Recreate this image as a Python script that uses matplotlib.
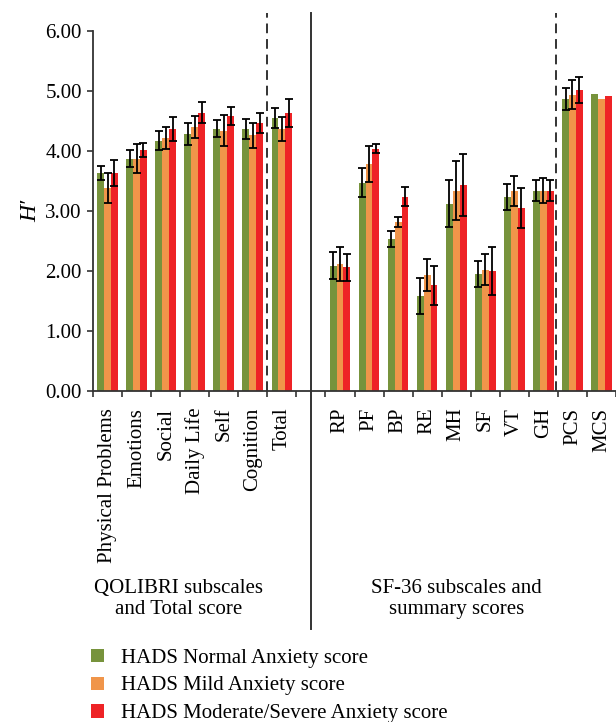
import numpy as np
import matplotlib.pyplot as plt
from matplotlib.patches import Patch

plt.rcParams['font.family'] = ['Liberation Serif', 'DejaVu Serif']

# categories (slot 7 is the empty gap between the two blocks)
qol_labels = ['Physical Problems', 'Emotions', 'Social', 'Daily Life', 'Self', 'Cognition', 'Total']
sf_labels = ['RP', 'PF', 'BP', 'RE', 'MH', 'SF', 'VT', 'GH', 'PCS', 'MCS']

# H' values
normal = [3.63, 3.87, 4.17, 4.28, 4.37, 4.37, 4.55,
          2.09, 3.47, 2.53, 1.58, 3.12, 1.95, 3.23, 3.34, 4.87, 4.95]
mild = [3.39, 3.87, 4.22, 4.40, 4.34, 4.26, 4.36,
        2.12, 3.78, 2.82, 1.93, 3.34, 2.02, 3.34, 3.34, 4.94, 4.87]
severe = [3.63, 4.02, 4.37, 4.64, 4.59, 4.47, 4.63,
          2.06, 4.04, 3.24, 1.76, 3.43, 2.00, 3.05, 3.34, 5.02, 4.92]

# error bars (MCS has none)
normal_err = [0.12, 0.14, 0.16, 0.18, 0.14, 0.17, 0.16,
              0.23, 0.24, 0.13, 0.30, 0.39, 0.22, 0.22, 0.17, 0.18, 0]
mild_err = [0.25, 0.24, 0.18, 0.18, 0.26, 0.21, 0.20,
            0.28, 0.30, 0.08, 0.27, 0.49, 0.26, 0.25, 0.21, 0.24, 0]
severe_err = [0.22, 0.12, 0.20, 0.17, 0.15, 0.17, 0.23,
              0.22, 0.08, 0.16, 0.33, 0.52, 0.40, 0.33, 0.17, 0.22, 0]

series_names = ['HADS Normal Anxiety score', 'HADS Mild Anxiety score',
                'HADS Moderate/Severe Anxiety score']
colors = ['#77933C', '#F0954A', '#EE2326']

labels = qol_labels + sf_labels
x = np.array(list(range(7)) + list(range(8, 18)), dtype=float)

fig = plt.figure(figsize=(6.16, 7.22), dpi=100)
ax = fig.add_axes([0.151, 0.4584, 0.849, 0.4986])

w = 0.237
vals = [normal, mild, severe]
errs = [normal_err, mild_err, severe_err]
for k in range(3):
    xs = x + (k - 1) * w
    ax.bar(xs, vals[k], width=w, color=colors[k], linewidth=0, zorder=2)
    e = np.array(errs[k])
    m = e > 0
    ax.errorbar(xs[m], np.array(vals[k])[m], yerr=e[m], fmt='none', ecolor='black',
                elinewidth=1.3, capsize=3.2, capthick=1.3, zorder=3)

ax.set_xlim(-0.5, 17.5)
ax.set_ylim(0, 6)
ax.set_yticks(np.arange(0, 7, 1))
ax.set_yticklabels(['%.2f' % v for v in np.arange(0, 7, 1)], fontsize=15)
ax.set_xticks(np.arange(-0.5, 18, 1))
ax.set_xticklabels([])
ax.set_xticks(x, minor=True)
ax.set_xticklabels(labels, minor=True, rotation=90, fontsize=15)
ax.tick_params(axis='x', which='major', length=4, width=1.2, direction='out', color='#333333')
ax.tick_params(axis='x', which='minor', length=0, pad=12)
ax.tick_params(axis='y', length=4, width=1.2, direction='out', color='#333333', pad=4)

for s in ['top', 'right']:
    ax.spines[s].set_visible(False)
for s in ['left', 'bottom']:
    ax.spines[s].set_linewidth(1.3)
    ax.spines[s].set_color('#333333')

ax.set_ylabel("H\u2032", fontsize=17, style='italic', labelpad=3)

# separators
ax.plot([5.48, 5.48], [0, 6.3], ls=(0, (5, 3)), color='#333333', lw=1.4, clip_on=False)
ax.plot([15.45, 15.45], [0, 6.3], ls=(0, (5, 3)), color='#333333', lw=1.4, clip_on=False)
ax.plot([7.0, 7.0], [-3.97, 6.3], color='#333333', lw=1.4, clip_on=False)

trans = ax.get_xaxis_transform()
ax.text(2.45, -0.578, 'QOLIBRI subscales\nand Total score', transform=trans,
        ha='center', va='center', fontsize=15, linespacing=1.15)
ax.text(12.0, -0.578, 'SF-36 subscales and\nsummary scores', transform=trans,
        ha='center', va='center', fontsize=15, linespacing=1.15)

handles = [Patch(facecolor=c, edgecolor='none') for c in colors]
fig.legend(handles, series_names, loc='upper left', bbox_to_anchor=(0.135, 0.113),
           frameon=False, fontsize=15, handlelength=0.6, handleheight=0.6,
           handletextpad=0.8, labelspacing=0.42, borderaxespad=0)

fig.savefig('out.png', dpi=100)
